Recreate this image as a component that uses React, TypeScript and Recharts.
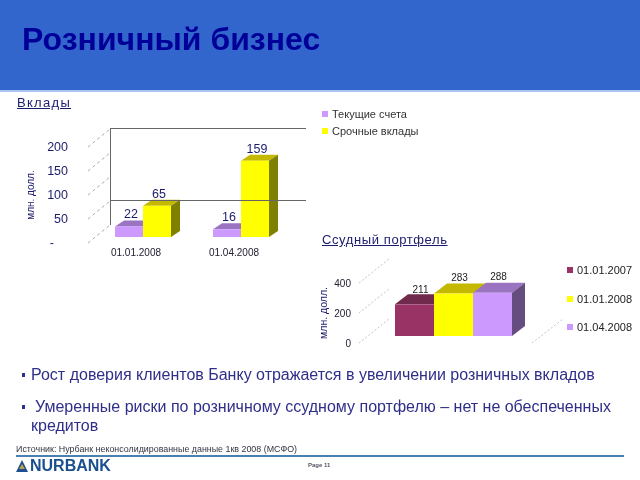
import { BarChart, Bar, XAxis, YAxis, ReferenceLine, LabelList, Legend } from "recharts";

const depositDates = ["01.01.2008", "01.04.2008"];
const currentAccounts = [22, 16];
const termDeposits = [65, 159];
const depositTicks = [0, 50, 100, 150, 200];
const depositWallLines = [50, 200];

const loanDates = ["01.01.2007", "01.01.2008", "01.04.2008"];
const loanValues = [211, 283, 288];
const loanTicks = [0, 200, 400];

const depositData = depositDates.map((date, i) => ({
  date,
  current: currentAccounts[i],
  term: termDeposits[i],
}));
const loanData = [
  { name: "loans", a: loanValues[0], b: loanValues[1], c: loanValues[2] },
];

const FONT = "'Liberation Sans', Arial, sans-serif";
const NAVY = "#1c1c6e";
const BODY_TEXT = "#2f2f8a";

const MAROON = { front: "#993366", top: "#6f2a4c", side: "#5c2340" };
const YELLOW = { front: "#ffff00", top: "#c4b800", side: "#808000" };
const PURPLE = { front: "#cc99ff", top: "#9a74c0", side: "#664d80" };

// front face plus skewed top and side, lifted off the axis floor
const box3d = (c: any, dx: number, dy: number, lift: number, showSide: boolean) => (p: any) => {
  const { x, y, width, height } = p;
  const t = y - lift;
  const b = t + height;
  const r = x + width;
  return (
    <g>
      <polygon points={`${x},${t} ${x + dx},${t - dy} ${r + dx},${t - dy} ${r},${t}`} fill={c.top} />
      {showSide && (
        <polygon points={`${r},${t} ${r + dx},${t - dy} ${r + dx},${b - dy} ${r},${b}`} fill={c.side} />
      )}
      <rect x={x} y={t} width={width} height={height} fill={c.front} />
    </g>
  );
};

const depthLine = (dx0: number, dx1: number, dy: number, color: string, dash: string) => (p: any) => {
  const x = p.x1;
  const y = p.y1;
  return (
    <line
      x1={x + dx0}
      y1={y}
      x2={x + dx1}
      y2={y - dy}
      stroke={color}
      strokeWidth={1}
      strokeDasharray={dash}
    />
  );
};

const wallLine = (p: any) => (
  <line x1={p.x1 + 16} y1={p.y1 - 18.5} x2={p.x1 + 212} y2={p.y1 - 18.5} stroke="#666" strokeWidth={1} />
);

const wallEdge = (p: any) => (
  <line x1={p.x1 + 16.5} y1={p.y1 - 18.5} x2={p.x1 + 16.5} y2={p.y1 + 78} stroke="#666" strokeWidth={1} />
);

const valueLabel = (size: number, shiftX: number, shiftY: number) => (p: any) => (
  <text
    x={p.x + p.width / 2 + shiftX}
    y={p.y + shiftY}
    textAnchor="middle"
    fontSize={size}
    fontFamily={FONT}
    fill={size > 11 ? NAVY : "#222"}
  >
    {p.value}
  </text>
);

const depositTick = (p: any) => (
  <text
    x={p.payload.value === 0 ? p.x - 14 : p.x}
    y={p.y + 4}
    textAnchor="end"
    fontSize={12.5}
    fontFamily={FONT}
    fill={NAVY}
  >
    {p.payload.value === 0 ? "-" : p.payload.value}
  </text>
);

const legendContent = (items: { label: string; color: string }[], gap: number, size: number, color: string, spacing: number) => () => (
  <div style={{ fontFamily: FONT, fontSize: size, color, letterSpacing: spacing, whiteSpace: "nowrap" }}>
    {items.map((it) => (
      <div key={it.label} style={{ height: gap, display: "flex", alignItems: "center" }}>
        <span style={{ width: 6, height: 6, background: it.color, marginRight: 4, display: "inline-block" }} />
        {it.label}
      </div>
    ))}
  </div>
);

const abs = (left: number, top: number, extra: any = {}) => ({
  position: "absolute" as const,
  left,
  top,
  whiteSpace: "nowrap" as const,
  ...extra,
});

export default function App() {
  return (
    <div
      style={{
        position: "absolute",
        left: 0,
        top: 0,
        width: 640,
        height: 480,
        overflow: "hidden",
        background: "#fff",
        fontFamily: FONT,
        filter: "blur(0.4px)",
      }}
    >
      <div style={abs(0, 0, { width: 640, height: 90, background: "#3366cc" })} />
      <div style={abs(0, 90, { width: 640, height: 2, background: "#a9c4f5" })} />
      <div style={abs(22, 22, { fontSize: 32, fontWeight: "bold", color: "#000099", lineHeight: "34px" })}>
        Розничный бизнес
      </div>

      <div style={abs(17, 95, { fontSize: 13, color: NAVY, textDecoration: "underline", letterSpacing: 1.3, lineHeight: "16px" })}>
        Вклады
      </div>
      <div style={abs(322, 232, { fontSize: 13, color: NAVY, textDecoration: "underline", letterSpacing: 0.6, lineHeight: "16px" })}>
        Ссудный портфель
      </div>

      <div style={abs(0, 100)}>
        <BarChart
          width={430}
          height={170}
          data={depositData}
          margin={{ top: 47, right: 140, bottom: 0, left: 34 }}
          barGap={0}
          barSize={28}
          barCategoryGap={0}
        >
          <XAxis
            dataKey="date"
            axisLine={false}
            tickLine={false}
            tickSize={0}
            tickMargin={6}
            height={27}
            interval={0}
            tick={{ fontSize: 10, fontFamily: FONT, fill: "#223", dx: -7 }}
          />
          <YAxis
            domain={[0, 200]}
            ticks={depositTicks}
            width={60}
            axisLine={false}
            tickLine={false}
            tickSize={0}
            tickMargin={26}
            tick={depositTick}
            label={{
              value: "млн. долл.",
              angle: -90,
              position: "insideLeft",
              offset: -4,
              textAnchor: "middle",
              style: { fontSize: 10, fontFamily: FONT, fill: NAVY, textAnchor: "middle" },
            }}
          />
          {depositTicks.map((v) => (
            <ReferenceLine key={v} y={v} shape={depthLine(-6, 16, 18, "#aaa", "3 3")} />
          ))}
          {depositWallLines.map((v) => (
            <ReferenceLine key={`w${v}`} y={v} shape={wallLine} />
          ))}
          <ReferenceLine y={200} shape={wallEdge} />
          <Legend
            layout="vertical"
            align="center"
            verticalAlign="middle"
            wrapperStyle={{ left: 322, top: 5, width: 120 }}
            content={legendContent(
              [
                { label: "Текущие счета", color: PURPLE.front },
                { label: "Срочные вклады", color: YELLOW.front },
              ],
              17,
              11,
              "#333",
              0,
            )}
          />
          <Bar dataKey="current" isAnimationActive={false} shape={box3d(PURPLE, 9, 6, 6, false)}>
            <LabelList dataKey="current" content={valueLabel(12.5, 2, -14)} />
          </Bar>
          <Bar dataKey="term" isAnimationActive={false} shape={box3d(YELLOW, 9, 6, 6, true)}>
            <LabelList dataKey="term" content={valueLabel(12.5, 2, -13.5)} />
          </Bar>
        </BarChart>
      </div>

      <div style={abs(310, 250)}>
        <BarChart
          width={330}
          height={110}
          data={loanData}
          margin={{ top: 33, right: 86, bottom: 17, left: 3 }}
          barGap={0}
          barSize={39}
          barCategoryGap={0}
        >
          <XAxis dataKey="name" hide />
          <YAxis
            domain={[0, 400]}
            ticks={loanTicks}
            width={40}
            axisLine={false}
            tickLine={false}
            tickSize={0}
            tickMargin={2}
            tick={{ fontSize: 10, fontFamily: FONT, fill: "#223" }}
            label={{
              value: "млн. долл.",
              angle: -90,
              position: "insideLeft",
              offset: 10,
              textAnchor: "middle",
              style: { fontSize: 10.5, fontFamily: FONT, fill: NAVY, textAnchor: "middle" },
            }}
          />
          {loanTicks.map((v) => (
            <ReferenceLine key={v} y={v} shape={depthLine(6, 36, 24, "#c4c4c4", "2 2")} />
          ))}
          <ReferenceLine y={0} shape={depthLine(179, 210, 24, "#c4c4c4", "2 2")} />
          <Legend
            layout="vertical"
            align="center"
            verticalAlign="middle"
            wrapperStyle={{ left: 257, top: 6, width: 80 }}
            content={legendContent(
              [
                { label: loanDates[0], color: MAROON.front },
                { label: loanDates[1], color: YELLOW.front },
                { label: loanDates[2], color: PURPLE.front },
              ],
              28.5,
              11,
              "#222",
              0,
            )}
          />
          <Bar dataKey="a" isAnimationActive={false} shape={box3d(MAROON, 13, 10, 7, false)}>
            <LabelList dataKey="a" content={valueLabel(10, 6, -18)} />
          </Bar>
          <Bar dataKey="b" isAnimationActive={false} shape={box3d(YELLOW, 13, 10, 7, false)}>
            <LabelList dataKey="b" content={valueLabel(10, 6, -20)} />
          </Bar>
          <Bar dataKey="c" isAnimationActive={false} shape={box3d(PURPLE, 13, 10, 7, true)}>
            <LabelList dataKey="c" content={valueLabel(10, 6, -20)} />
          </Bar>
        </BarChart>
      </div>

      <div style={abs(22, 373, { width: 3, height: 4, background: BODY_TEXT })} />
      <div style={abs(31, 366, { fontSize: 16, color: BODY_TEXT, lineHeight: "18px" })}>
        Рост доверия клиентов Банку отражается в увеличении розничных вкладов
      </div>
      <div style={abs(22, 405, { width: 3, height: 4, background: BODY_TEXT })} />
      <div style={abs(35, 398, { fontSize: 16, color: BODY_TEXT, lineHeight: "18px" })}>
        Умеренные риски по розничному ссудному портфелю – нет не обеспеченных
      </div>
      <div style={abs(31, 417, { fontSize: 16, color: BODY_TEXT, lineHeight: "18px" })}>кредитов</div>

      <div style={abs(16, 443, { fontSize: 8.9, color: "#334", lineHeight: "12px" })}>
        Источник: Нурбанк неконсолидированные данные 1кв 2008 (МСФО)
      </div>
      <div style={abs(16, 455, { width: 608, height: 2, background: "#4a7fb0" })} />

      <svg style={abs(16, 460)} width={12} height={13}>
        <polygon points="6,0 12,12 0,12" fill="#1f4f8f" />
        <polygon points="6,4 9,9 3,9" fill="#b9a24a" />
      </svg>
      <div style={abs(30, 457, { fontSize: 16, fontWeight: "bold", color: "#1a4f8f", lineHeight: "18px" })}>NURBANK</div>
      <div style={abs(308, 461, { fontSize: 6, fontWeight: "bold", color: "#556", lineHeight: "8px" })}>Page 11</div>
    </div>
  );
}
